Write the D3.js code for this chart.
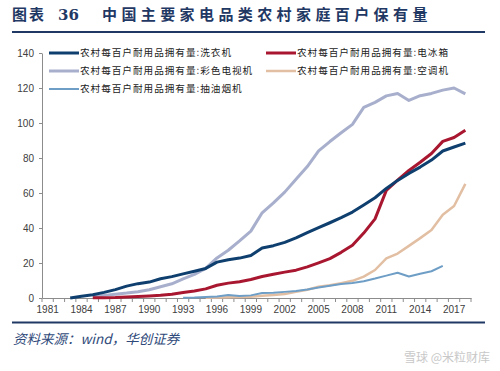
<!DOCTYPE html>
<html lang="zh">

<head>
    <meta charset="UTF-8">
    <title>中国主要家电品类农村家庭百户保有量</title>
    <style>
        body { margin: 0; background: #fff; }
        svg { display: block; }
    </style>
</head>

<body>
    <script src="https://d3js.org/d3.v7.min.js"></script>
    <svg id="vis"></svg>

    <script>
        // Data (per 100 rural households)
        const years = d3.range(1981, 2019)
        const washer = [null, null, 0, 1.0, 1.9, 3.2, 4.8, 6.8, 8.2, 9.1, 11.0, 12.2, 13.8, 15.3, 16.9, 20.5, 21.9, 22.8, 24.3, 28.6, 29.9, 31.8, 34.3, 37.3, 40.2, 43.0, 45.9, 49.1, 53.1, 57.3, 62.6, 67.2, 71.2, 74.8, 78.8, 84.0, 86.3, 88.5]
        const fridge = [null, null, null, null, 0.1, 0.2, 0.3, 0.6, 0.9, 1.2, 1.6, 2.2, 3.1, 4.0, 5.2, 7.3, 8.5, 9.3, 10.6, 12.3, 13.6, 14.8, 15.9, 17.8, 20.1, 22.5, 26.1, 30.2, 37.1, 45.2, 61.5, 67.3, 72.9, 77.6, 82.6, 89.5, 91.7, 95.9]
        const colorTv = [null, null, null, null, 0.8, 1.5, 2.2, 2.8, 3.6, 4.7, 6.4, 8.1, 10.9, 13.5, 16.9, 22.9, 27.3, 32.6, 38.2, 48.7, 54.4, 60.5, 67.8, 75.1, 84.1, 89.4, 94.4, 99.2, 108.9, 111.8, 115.5, 116.9, 112.9, 115.6, 116.9, 118.8, 120.0, 116.6]
        const aircon = [null, null, null, null, null, null, null, null, null, null, null, null, null, null, 0.2, 0.3, 0.4, 0.6, 0.7, 1.3, 1.7, 2.3, 3.5, 4.7, 6.4, 7.3, 8.5, 9.8, 12.2, 16.0, 22.6, 25.4, 29.8, 34.2, 38.8, 47.6, 52.6, 65.2]
        const rangeHood = [null, null, null, null, null, null, null, null, null, null, null, null, 0.2, 0.3, 0.6, 0.9, 1.7, 1.2, 1.5, 2.8, 3.0, 3.5, 4.0, 4.9, 6.0, 7.0, 8.0, 8.6, 9.6, 11.1, 12.8, 14.4, 12.3, 13.9, 15.3, 18.4, null, null]
        const yTicks = [0, 20, 40, 60, 80, 100, 120, 140]

        const prefix = '农村每百户耐用品拥有量:'
        // draw order: gray first so dark lines sit on top
        const series = [
            { name: '彩色电视机', values: colorTv, color: '#A7AFCC', width: 3, lx: 49, ly: 71 },
            { name: '空调机', values: aircon, color: '#E2BFA3', width: 2.5, lx: 266, ly: 71 },
            { name: '抽油烟机', values: rangeHood, color: '#6E9EC6', width: 2, lx: 49, ly: 89 },
            { name: '电冰箱', values: fridge, color: '#A8172F', width: 3, lx: 266, ly: 53 },
            { name: '洗衣机', values: washer, color: '#0F3F6E', width: 3, lx: 49, ly: 53 },
        ]

        const W = 500, H = 371
        const svg = d3.select('#vis').attr('width', W).attr('height', H)
        const navy = '#1F3864'

        // title
        svg.append('text')
            .attr('x', 12).attr('y', 20)
            .attr('font-family', '"Noto Sans CJK SC", sans-serif')
            .attr('font-size', 15).attr('font-weight', 'bold')
            .attr('letter-spacing', 2)
            .attr('fill', navy)
            .text('图表')
        svg.append('text')
            .attr('x', 58).attr('y', 20)
            .attr('font-family', '"DejaVu Serif", serif')
            .attr('font-size', 15).attr('font-weight', 'bold')
            .attr('fill', navy)
            .text('36')
        svg.append('text')
            .attr('x', 102).attr('y', 20)
            .attr('font-family', '"Noto Sans CJK SC", sans-serif')
            .attr('font-size', 15).attr('font-weight', 'bold')
            .attr('letter-spacing', 4.4)
            .attr('fill', navy)
            .text('中国主要家电品类农村家庭百户保有量')
        svg.append('line').attr('x1', 12).attr('x2', 485).attr('y1', 32).attr('y2', 32)
            .attr('stroke', navy).attr('stroke-width', 2)

        // scales
        const x = d3.scaleBand().domain(years).range([42, 471]).padding(0)
        const y = d3.scaleLinear().domain([0, 140]).range([298, 53])
        const axisColor = '#8C8C8C'

        // y axis
        const yAxis = svg.append('g').attr('transform', 'translate(42,0)')
            .call(d3.axisLeft(y).tickValues(yTicks).tickSize(3).tickSizeOuter(0))
        yAxis.select('.domain').attr('stroke', axisColor)
        yAxis.selectAll('.tick line').attr('stroke', axisColor)
        yAxis.selectAll('text').attr('x', -8)
            .attr('font-family', 'Arial, "Liberation Sans", sans-serif')
            .attr('font-size', 10).attr('fill', '#404040')

        // x axis (labels every 3 years, ticks between categories)
        const xAxis = svg.append('g').attr('transform', 'translate(0,298)')
            .call(d3.axisBottom(x).tickValues(years.filter(d => (d - 1981) % 3 === 0)).tickSize(0).tickSizeOuter(0))
        xAxis.select('.domain').attr('stroke', axisColor)
        xAxis.selectAll('text').attr('dy', '1.2em')
            .attr('font-family', 'Arial, "Liberation Sans", sans-serif')
            .attr('font-size', 10).attr('fill', '#404040')
        svg.append('g').selectAll('line')
            .data(years.concat([2019]))
            .join('line')
            .attr('x1', d => d === 2019 ? x(2018) + x.bandwidth() : x(d))
            .attr('x2', d => d === 2019 ? x(2018) + x.bandwidth() : x(d))
            .attr('y1', 298).attr('y2', 302)
            .attr('stroke', axisColor)

        // lines
        const line = d3.line()
            .defined(d => d.v !== null)
            .x(d => x(d.year) + x.bandwidth() / 2)
            .y(d => y(d.v))

        svg.append('g').selectAll('path')
            .data(series)
            .join('path')
            .attr('fill', 'none')
            .attr('stroke', d => d.color)
            .attr('stroke-width', d => d.width)
            .attr('stroke-linejoin', 'round')
            .attr('d', d => line(years.map((yr, i) => ({ year: yr, v: d.values[i] }))))

        // legend
        const legend = svg.append('g').selectAll('g')
            .data(series)
            .join('g')
            .attr('transform', d => `translate(${d.lx},${d.ly})`)
        legend.append('line')
            .attr('x1', 0).attr('x2', 30)
            .attr('stroke', d => d.color).attr('stroke-width', d => d.width)
        legend.append('text')
            .attr('x', 31).attr('dy', '0.35em')
            .attr('font-family', '"Noto Sans CJK SC", sans-serif')
            .attr('font-size', 9.6).attr('letter-spacing', 1)
            .attr('fill', '#222')
            .text(d => prefix + d.name)

        // footer
        svg.append('line').attr('x1', 12).attr('x2', 485).attr('y1', 322.5).attr('y2', 322.5)
            .attr('stroke', navy).attr('stroke-width', 2)
        svg.append('text')
            .attr('x', 13).attr('y', 344)
            .attr('font-family', '"Noto Sans CJK SC", serif')
            .attr('font-size', 13.5).attr('font-style', 'italic')
            .attr('fill', '#2F4A7A')
            .text('资料来源：wind，华创证券')
        svg.append('text')
            .attr('x', 490).attr('y', 362).attr('text-anchor', 'end')
            .attr('font-family', '"Noto Sans CJK SC", sans-serif')
            .attr('font-size', 12).attr('fill', '#C8C8C8')
            .text('雪球 @米粒财库')
    </script>
</body>

</html>
